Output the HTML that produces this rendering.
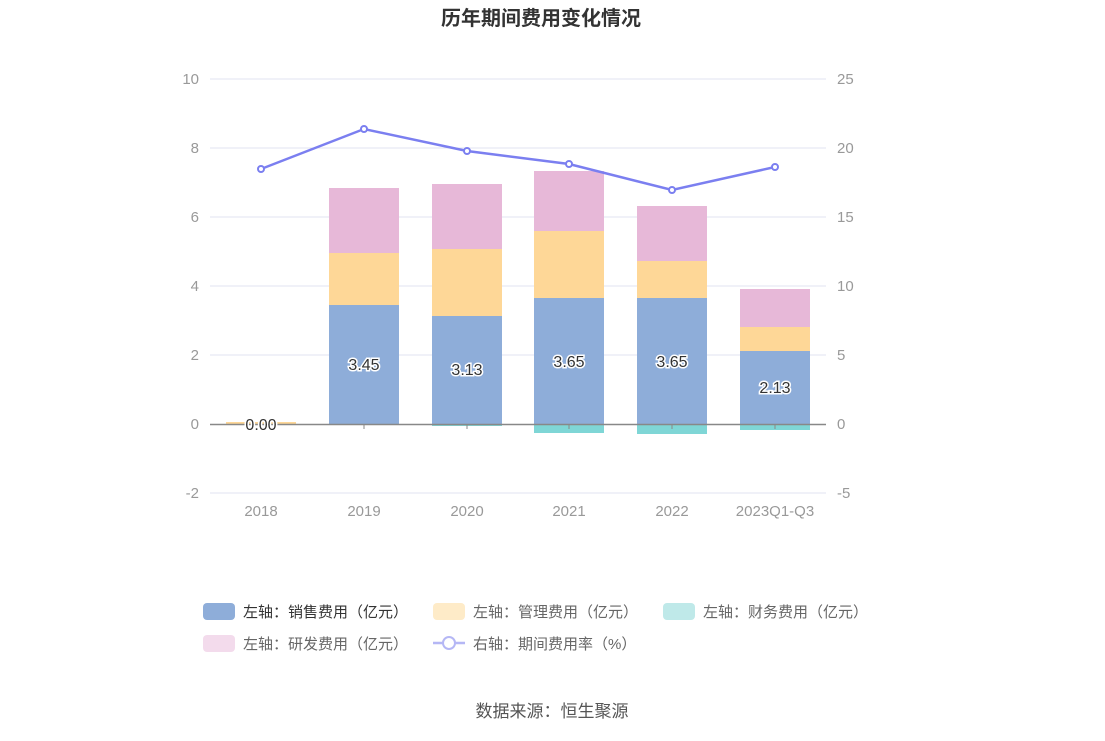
<!DOCTYPE html>
<html><head><meta charset="utf-8"><style>
body{margin:0;background:#fff;}
svg text{font-family:"Liberation Sans","Noto Sans CJK SC",sans-serif;}
</style></head><body>
<svg width="1105" height="736" viewBox="0 0 1105 736" xmlns="http://www.w3.org/2000/svg">
<text x="541" y="25" text-anchor="middle" font-size="20" font-weight="bold" fill="#333">历年期间费用变化情况</text>
<g stroke="#e0e3f0" stroke-width="1">
<line x1="210" y1="79" x2="826" y2="79"/>
<line x1="210" y1="148" x2="826" y2="148"/>
<line x1="210" y1="217" x2="826" y2="217"/>
<line x1="210" y1="286" x2="826" y2="286"/>
<line x1="210" y1="355" x2="826" y2="355"/>
<line x1="210" y1="493" x2="826" y2="493"/>
</g>
<g font-size="15" fill="#999" text-anchor="end">
<text x="199" y="84">10</text><text x="199" y="153">8</text><text x="199" y="222">6</text>
<text x="199" y="291">4</text><text x="199" y="360">2</text><text x="199" y="429">0</text><text x="199" y="498">-2</text>
</g>
<g font-size="15" fill="#999" text-anchor="start">
<text x="837" y="84">25</text><text x="837" y="153">20</text><text x="837" y="222">15</text>
<text x="837" y="291">10</text><text x="837" y="360">5</text><text x="837" y="429">0</text><text x="837" y="498">-5</text>
</g>
<!-- bars -->
<g>
<rect x="226" y="422" width="70" height="2" fill="#fed797"/>
<rect x="329" y="305" width="70" height="119" fill="#8eadd9"/>
<rect x="329" y="253" width="70" height="52" fill="#fed797"/>
<rect x="329" y="188" width="70" height="65" fill="#e7b8d8"/>
<rect x="432" y="316" width="70" height="108" fill="#8eadd9"/>
<rect x="432" y="249" width="70" height="67" fill="#fed797"/>
<rect x="432" y="184" width="70" height="65" fill="#e7b8d8"/>
<rect x="432" y="424" width="70" height="2" fill="#7fd6d6"/>
<rect x="534" y="298" width="70" height="126" fill="#8eadd9"/>
<rect x="534" y="231" width="70" height="67" fill="#fed797"/>
<rect x="534" y="171" width="70" height="60" fill="#e7b8d8"/>
<rect x="534" y="424" width="70" height="9" fill="#7fd6d6"/>
<rect x="637" y="298" width="70" height="126" fill="#8eadd9"/>
<rect x="637" y="261" width="70" height="37" fill="#fed797"/>
<rect x="637" y="206" width="70" height="55" fill="#e7b8d8"/>
<rect x="637" y="424" width="70" height="10" fill="#7fd6d6"/>
<rect x="740" y="351" width="70" height="73" fill="#8eadd9"/>
<rect x="740" y="327" width="70" height="24" fill="#fed797"/>
<rect x="740" y="289" width="70" height="38" fill="#e7b8d8"/>
<rect x="740" y="424" width="70" height="6" fill="#7fd6d6"/>
</g>
<line x1="210" y1="424.5" x2="826" y2="424.5" stroke="#888" stroke-width="1.5"/>
<g stroke="#888"><line x1="364" y1="424" x2="364" y2="429"/><line x1="467" y1="424" x2="467" y2="429"/><line x1="569" y1="424" x2="569" y2="429"/><line x1="672" y1="424" x2="672" y2="429"/><line x1="775" y1="424" x2="775" y2="429"/></g>
<g font-size="16" fill="#333" text-anchor="middle" stroke="#fff" stroke-width="3" paint-order="stroke">
<text x="261" y="430">0.00</text><text x="364" y="370">3.45</text><text x="467" y="375">3.13</text>
<text x="569" y="367">3.65</text><text x="672" y="367">3.65</text><text x="775" y="393">2.13</text>
</g>
<g font-size="15" fill="#999" text-anchor="middle">
<text x="261" y="516">2018</text><text x="364" y="516">2019</text><text x="467" y="516">2020</text>
<text x="569" y="516">2021</text><text x="672" y="516">2022</text><text x="775" y="516">2023Q1-Q3</text>
</g>
<polyline points="261,169 364,129 467,151 569,164 672,190 775,167" fill="none" stroke="#7b7ff0" stroke-width="2.5"/>
<g fill="#fff" stroke="#7b7ff0" stroke-width="2">
<circle cx="261" cy="169" r="3"/><circle cx="364" cy="129" r="3"/><circle cx="467" cy="151" r="3"/>
<circle cx="569" cy="164" r="3"/><circle cx="672" cy="190" r="3"/><circle cx="775" cy="167" r="3"/>
</g>
<!-- legend -->
<g font-size="15" fill="#666">
<rect x="203" y="603" width="32" height="17" rx="4" fill="#8eadd9"/><text x="243" y="617" fill="#333">左轴：销售费用（亿元）</text>
<rect x="433" y="603" width="32" height="17" rx="4" fill="#feebc8"/><text x="473" y="617">左轴：管理费用（亿元）</text>
<rect x="663" y="603" width="32" height="17" rx="4" fill="#bfe9e9"/><text x="703" y="617">左轴：财务费用（亿元）</text>
<rect x="203" y="635" width="32" height="17" rx="4" fill="#f3dbec"/><text x="243" y="649">左轴：研发费用（亿元）</text>
<line x1="433" y1="643" x2="465" y2="643" stroke="#b5b7f5" stroke-width="2.5"/>
<circle cx="449" cy="643" r="6" fill="#fff" stroke="#b5b7f5" stroke-width="2"/>
<text x="473" y="649">右轴：期间费用率（%）</text>
</g>
<text x="552" y="717" text-anchor="middle" font-size="17" fill="#555">数据来源：恒生聚源</text>
</svg>
</body></html>
